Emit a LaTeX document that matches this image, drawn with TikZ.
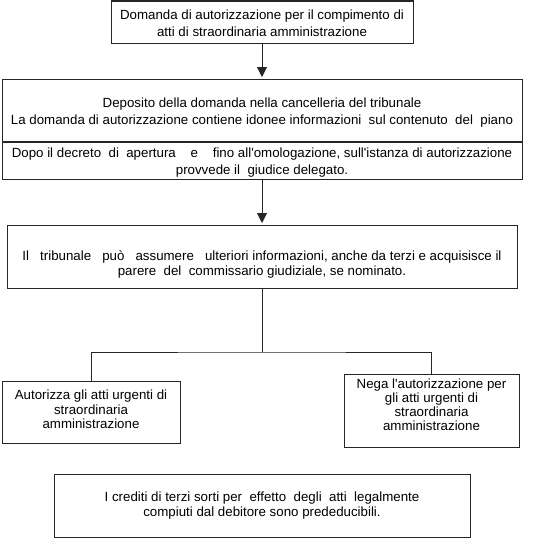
\documentclass[tikz,border=0pt]{standalone}
\usepackage{fontspec}
\setmainfont{Liberation Sans}
\usetikzlibrary{arrows.meta}
\begin{document}
\begin{tikzpicture}[x=1pt,y=-1pt,
  box/.style={draw=black!85, line width=1pt, inner sep=0pt, align=center,
    font=\fontsize{13.3}{15}\selectfont},
  link/.style={draw=black!85, line width=1pt},
  arr/.style={link, shorten >=1.5pt, -{Triangle[length=10pt,width=10pt]}}]
\useasboundingbox (0,0) rectangle (547,538);
\node[box, minimum width=302pt, minimum height=42pt, font=\fontsize{13.3}{16.7}\selectfont] (b1) at (262,22)
  {\rule{0pt}{12pt}Domanda di autorizzazione per il compimento di\\atti di straordinaria amministrazione};
\node[box, minimum width=520pt, minimum height=62pt, font=\fontsize{13.3}{17}\selectfont] (b2a) at (262,110)
  {\rule{0pt}{14pt}Deposito della domanda nella cancelleria del tribunale\\
   La domanda di autorizzazione contiene idonee informazioni\ \ sul contenuto\ \ del\ \ piano};
\node[box, minimum width=520pt, minimum height=37pt, anchor=north, font=\fontsize{13.3}{17}\selectfont] (b2b) at (b2a.south)
  {\rule{0pt}{14pt}Dopo il decreto\ \ di\ \ apertura\ \ \ \ e\ \ \ \ fino all\textquotesingle omologazione, sull\textquotesingle istanza di autorizzazione\\
   provvede il\ \ giudice delegato.};
\node[box, minimum width=510pt, minimum height=63pt, font=\fontsize{13.3}{14.5}\selectfont] (b3) at (262,256.5)
  {\rule{0pt}{26pt}Il\ \ \ tribunale\ \ \ può\ \ \ assumere\ \ \ ulteriori informazioni, anche da terzi e acquisisce il\\
   parere\ \ del\ \ commissario giudiziale, se nominato.};
\node[box, minimum width=178pt, minimum height=62pt, font=\fontsize{13.3}{14.3}\selectfont] (l) at (91,412)
  {\rule{0pt}{12pt}Autorizza gli atti urgenti di\\straordinaria\\amministrazione\rule[-8pt]{0pt}{8pt}};
\node[box, minimum width=175pt, minimum height=73pt, font=\fontsize{13.3}{14}\selectfont] (r) at (431.5,410.5)
  {Nega l\textquotesingle autorizzazione per\\gli atti urgenti di\\straordinaria\\amministrazione\rule[-12pt]{0pt}{12pt}};
\node[box, minimum width=416pt, minimum height=63pt] (b4) at (262,505.5)
  {I crediti di terzi sorti per\ \ effetto\ \ degli\ \ atti\ \ legalmente\\
   compiuti dal debitore sono prededucibili.};
\coordinate (j) at (262,352);
\draw[arr] (b1.south) -- (b2a.north);
\draw[arr] (b2b.south) -- (b3.north);
\draw[link] (b3.south) -- (j);
\draw[link] (l.north) |- (j) -| (r.north);
\end{tikzpicture}
\end{document}
